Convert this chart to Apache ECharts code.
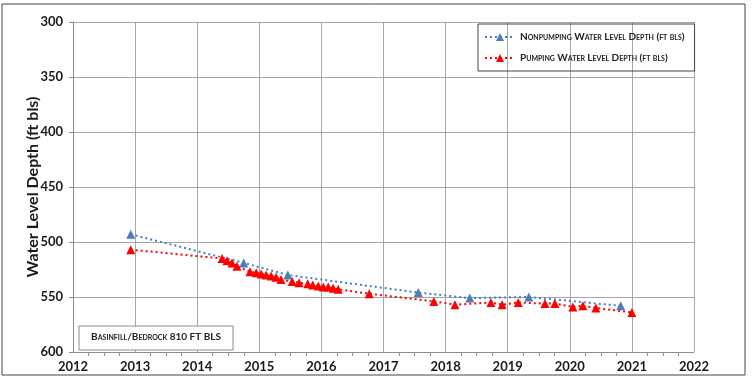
<!DOCTYPE html>
<html>
<head>
<meta charset="utf-8">
<script src="https://cdn.jsdelivr.net/npm/echarts@6/dist/echarts.min.js"></script>
<style>
html,body{margin:0;padding:0;background:#fff;}
#chart{width:754px;height:380px;}
</style>
</head>
<body>
<div id="chart"></div>
<script>
// ---- data ----
const yearTicks = [2012, 2013, 2014, 2015, 2016, 2017, 2018, 2019, 2020, 2021, 2022];
const depthTicks = [300, 350, 400, 450, 500, 550, 600];

const nonpumpingName = 'Nonpumping Water Level Depth (ft bls)';
const nonpumpingDates = [2012.93, 2014.75, 2015.46, 2017.56, 2018.39, 2019.34, 2020.82];
const nonpumpingDepth = [493, 519, 530, 546, 551, 550, 558];

const pumpingName = 'Pumping Water Level Depth (ft bls)';
const pumpingDates = [2012.93, 2014.40, 2014.48, 2014.56, 2014.64, 2014.85, 2014.95, 2015.03, 2015.11,
  2015.19, 2015.27, 2015.35, 2015.53, 2015.64, 2015.78, 2015.86, 2015.95, 2016.03, 2016.11, 2016.19,
  2016.27, 2016.77, 2017.81, 2018.15, 2018.73, 2018.91, 2019.17, 2019.60, 2019.76, 2020.05, 2020.21,
  2020.42, 2021.00];
const pumpingDepth = [507, 515, 517, 519, 522, 527, 528, 529, 530, 531, 532, 534, 536, 537, 538, 539,
  540, 541, 541, 542, 543, 547, 554, 557, 555, 557, 555, 556, 556, 559, 558, 560, 564];

const yAxisTitle = 'Water Level Depth (ft bls)';
const noteText = 'Basinfill/Bedrock 810 FT BLS';

// ---- chart ----
const FONT = 'Lato, "Open Sans", sans-serif';
const blue = '#4a7ebb';
const red = '#ff0000';
const zip = (xs, ys) => xs.map((x, i) => [x, ys[i]]);

const chart = echarts.init(document.getElementById('chart'), null, {renderer: 'canvas'});
chart.setOption({
  animation: false,
  backgroundColor: '#fff',
  grid: {left: 73, right: 60, top: 22, bottom: 28, show: false},
  xAxis: {
    type: 'value',
    min: yearTicks[0], max: yearTicks[yearTicks.length - 1], interval: 1,
    axisLine: {show: true, lineStyle: {color: '#8c8c8c', width: 1}},
    axisTick: {show: false},
    minorTick: {show: true, splitNumber: 4, length: 4, lineStyle: {color: '#8c8c8c'}},
    splitLine: {show: true, lineStyle: {color: '#a6a6a6', width: 1}},
    axisLabel: {
      margin: 8, color: '#1a1a1a', fontWeight: 'bold', fontSize: 13, fontFamily: FONT,
      formatter: v => yearTicks.includes(v) ? String(v) : ''
    }
  },
  yAxis: {
    type: 'value', inverse: true,
    min: depthTicks[0], max: depthTicks[depthTicks.length - 1], interval: 50,
    name: yAxisTitle, nameLocation: 'middle', nameGap: 32, nameRotate: 90, nameMoveOverlap: false,
    nameTextStyle: {fontWeight: 'bold', fontSize: 16, color: '#1a1a1a', fontFamily: FONT},
    axisLine: {show: true, lineStyle: {color: '#8c8c8c'}},
    axisTick: {show: true, length: 4, lineStyle: {color: '#8c8c8c'}},
    splitLine: {show: true, lineStyle: {color: '#a6a6a6', width: 1}},
    axisLabel: {
      margin: 10, color: '#1a1a1a', fontWeight: 'bold', fontSize: 13, fontFamily: FONT,
      formatter: v => depthTicks.includes(v) ? String(v) : ''
    }
  },
  legend: {
    orient: 'vertical', left: 478, top: 24,
    itemWidth: 30, itemHeight: 10, itemGap: 11,
    padding: [8, 10, 8, 6],
    borderColor: '#444', borderWidth: 1,
    textStyle: {fontStyle: 'small-caps', fontWeight: 'bold', fontSize: 10, color: '#222', fontFamily: FONT},
    data: [nonpumpingName, pumpingName]
  },
  series: [
    {
      name: nonpumpingName, type: 'line',
      data: zip(nonpumpingDates, nonpumpingDepth),
      symbol: 'triangle', symbolSize: 9,
      itemStyle: {color: blue},
      lineStyle: {color: blue, type: [2, 3], width: 2}
    },
    {
      name: pumpingName, type: 'line',
      data: zip(pumpingDates, pumpingDepth),
      symbol: 'triangle', symbolSize: 9,
      itemStyle: {color: red},
      lineStyle: {color: red, type: [2, 3], width: 2}
    }
  ],
  graphic: [
    {type: 'rect', shape: {x: 2, y: 4, width: 743, height: 371},
     style: {fill: 'none', stroke: '#444', lineWidth: 1}, silent: true, z: 0},
    {type: 'rect', shape: {x: 79, y: 326, width: 154, height: 24},
     style: {fill: '#fff', stroke: '#8c8c8c', lineWidth: 1}, z: 10},
    {type: 'text', x: 156, y: 337, z: 11,
     style: {text: noteText, fill: '#222', font: 'small-caps bold 10px ' + FONT, textAlign: 'center', textVerticalAlign: 'middle'}}
  ]
});
</script>
</body>
</html>
